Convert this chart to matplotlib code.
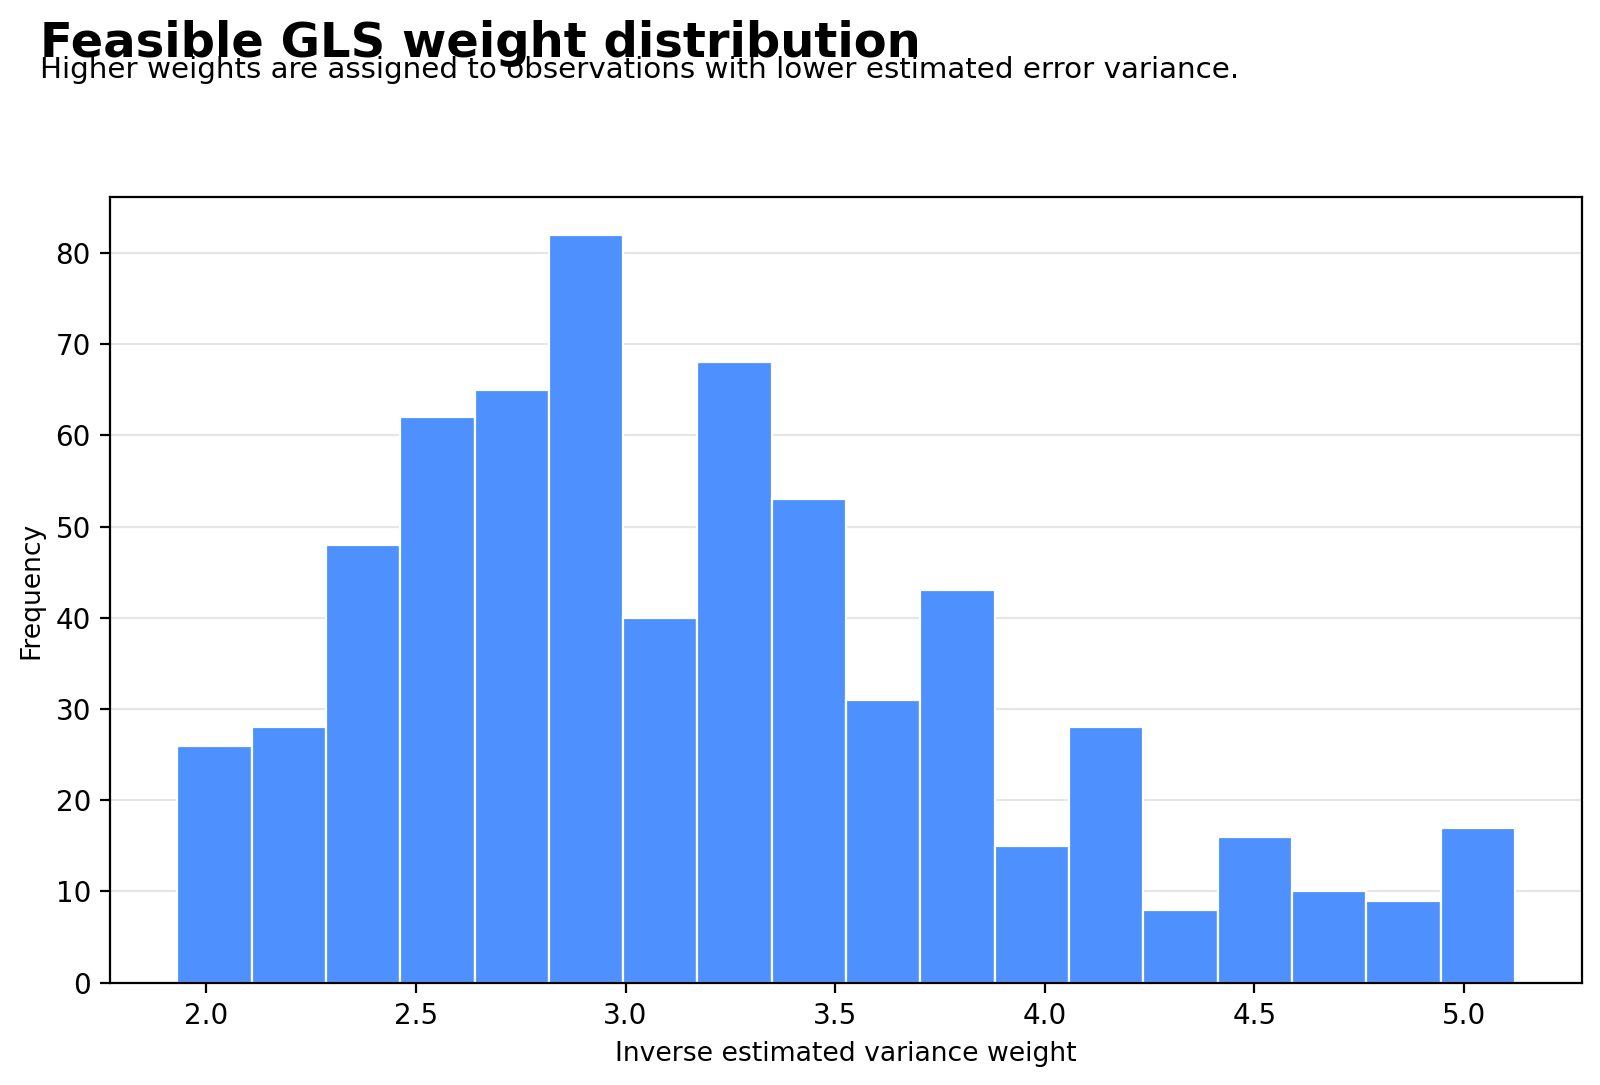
import numpy as np
import matplotlib
matplotlib.use('Agg')
import matplotlib.pyplot as plt

# histogram of inverse-variance weights (counts)
bin_lo = 1.931
bin_hi = 5.121
counts = [26, 28, 48, 62, 65, 82, 40, 68, 53, 31, 43, 15, 28, 8, 16, 10, 9, 17]
edges = np.linspace(bin_lo, bin_hi, len(counts) + 1)

title = 'Feasible GLS weight distribution'
subtitle = 'Higher weights are assigned to observations with lower estimated error variance.'

fig = plt.figure(figsize=(8, 5.425), dpi=200)
ax = fig.add_axes([0.069, 0.0943, 0.9196, 0.7239])

ax.bar(edges[:-1], counts, width=np.diff(edges), align='edge',
       color='#4d90fe', edgecolor='white', linewidth=0.8, zorder=2)
ax.grid(axis='y', color='#e6e6e6', linewidth=0.8, zorder=0)
ax.set_axisbelow(True)

ax.set_xlabel('Inverse estimated variance weight', fontsize=9.6)
ax.set_ylabel('Frequency', fontsize=9.6)
ax.tick_params(labelsize=10)

fig.text(0.025, 0.982, title, fontsize=17.3, fontweight='bold', va='top', ha='left')
fig.text(0.025, 0.948, subtitle, fontsize=10.6, va='top', ha='left')

fig.savefig('out.png', dpi=200)
